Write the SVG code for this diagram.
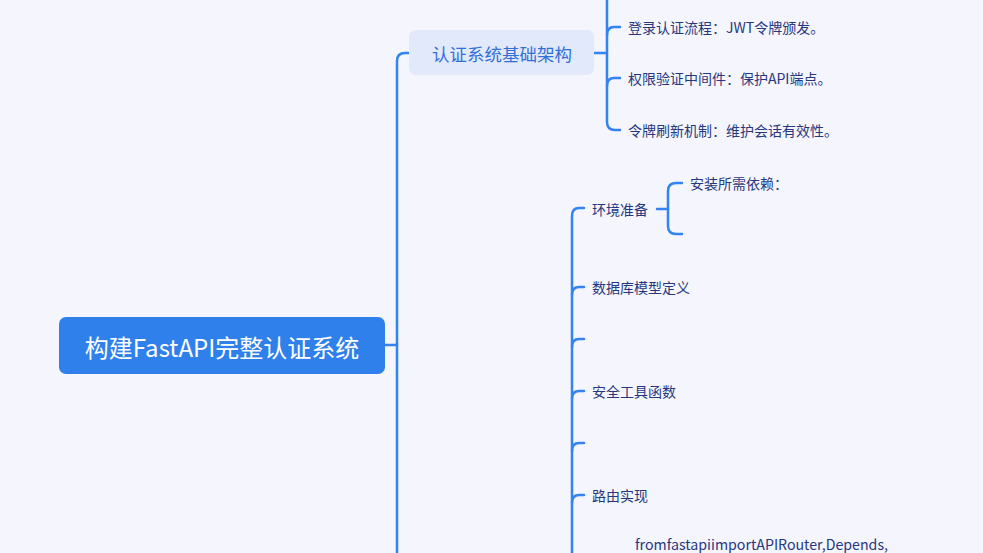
<svg xmlns="http://www.w3.org/2000/svg" width="983" height="553" viewBox="0 0 983 553">
<style>
.ln{fill:none;stroke:#3384f0;stroke-width:2.5;stroke-linecap:round;stroke-linejoin:round}
.t{font-family:"Noto Sans CJK SC","Noto Sans",sans-serif;dominant-baseline:central}
.item{font-size:14px;fill:#27377d}
.sub{font-size:14px;fill:#27377d}
</style>
<rect width="983" height="553" fill="#f4f5fd"/>
<g id="connectors">
<path class="ln" d="M384,345 H397"/>
<path class="ln" d="M397,560 V61 Q397,53 405,53 H410"/>
<path class="ln" d="M594,53 H607"/>
<path class="ln" d="M607,-5 V122 Q607,130 615,130 H620"/>
<path class="ln" d="M607,35 Q607,27 614,27 H620"/>
<path class="ln" d="M607,86 Q607,78 614,78 H620"/>
<path class="ln" d="M572,560 V216 Q572,208 579,208 H584"/>
<path class="ln" d="M572,295 Q572,287 579,287 H584"/>
<path class="ln" d="M572,347 Q572,339 579,339 H584"/>
<path class="ln" d="M572,399 Q572,391 579,391 H584"/>
<path class="ln" d="M572,451 Q572,443 579,443 H584"/>
<path class="ln" d="M572,503 Q572,495 579,495 H584"/>
<path class="ln" d="M657,209 H668"/>
<path class="ln" d="M682,183 H676 Q668,183 668,191 V226 Q668,234 676,234 H682"/>
</g>
<g id="root">
<rect x="59" y="317" width="326" height="57" rx="7" fill="#2f80eb"/>
<text class="t" x="222" y="346" font-size="24" fill="#ffffff" text-anchor="middle">构建FastAPI完整认证系统</text>
</g>
<g id="n-arch">
<rect x="409" y="30" width="185" height="45" rx="7" fill="#e1e9fb"/>
<text class="t" x="502" y="53" font-size="17.5" fill="#3270d6" text-anchor="middle">认证系统基础架构</text>
</g>
<g id="n-login"><text class="t item" x="628" y="27">登录认证流程：JWT令牌颁发。</text></g>
<g id="n-perm"><text class="t item" x="628" y="78">权限验证中间件：保护API端点。</text></g>
<g id="n-refresh"><text class="t item" x="628" y="130">令牌刷新机制：维护会话有效性。</text></g>
<g id="n-env"><text class="t sub" x="592" y="209">环境准备</text></g>
<g id="n-deps"><text class="t item" x="690" y="183">安装所需依赖：</text></g>
<g id="n-db"><text class="t sub" x="592" y="287">数据库模型定义</text></g>
<g id="n-sec"><text class="t sub" x="592" y="391">安全工具函数</text></g>
<g id="n-route"><text class="t sub" x="592" y="495">路由实现</text></g>
<g id="n-code"><text class="t" x="635" y="544" font-size="14.2" fill="#27377d">fromfastapiimportAPIRouter,Depends,</text></g>
</svg>
